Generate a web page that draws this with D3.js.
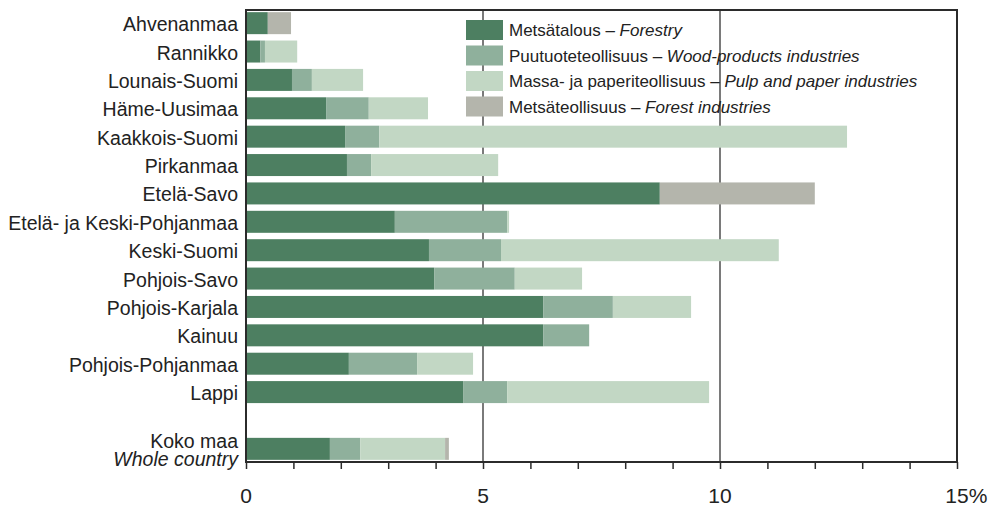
<!DOCTYPE html>
<html>
<head>
<meta charset="utf-8">
<script src="https://cdn.jsdelivr.net/npm/d3@7"></script>
<style>
  html, body { margin: 0; padding: 0; background: #fff; }
  svg { display: block; font-family: "Liberation Sans", Arial, sans-serif; }
</style>
</head>
<body>
<svg id="chart" width="988" height="507"></svg>
<script>
// ---- data ----
const regions = ["Ahvenanmaa", "Rannikko", "Lounais-Suomi", "Häme-Uusimaa", "Kaakkois-Suomi",
  "Pirkanmaa", "Etelä-Savo", "Etelä- ja Keski-Pohjanmaa", "Keski-Suomi", "Pohjois-Savo",
  "Pohjois-Karjala", "Kainuu", "Pohjois-Pohjanmaa", "Lappi", "", "Koko maa"];
const forestry      = [0.46, 0.30, 0.97, 1.69, 2.09, 2.13, 8.73, 3.14, 3.86, 3.97, 6.27, 6.27, 2.17, 4.58, 0, 1.77];
const woodProducts  = [0.00, 0.10, 0.42, 0.90, 0.72, 0.51, 0.00, 2.37, 1.52, 1.70, 1.47, 0.97, 1.44, 0.93, 0, 0.64];
const pulpPaper     = [0.00, 0.68, 1.08, 1.25, 9.87, 2.68, 0.00, 0.04, 5.86, 1.42, 1.65, 0.00, 1.18, 4.26, 0, 1.79];
const forestInd     = [0.49, 0.00, 0.00, 0.00, 0.00, 0.00, 3.27, 0.00, 0.00, 0.00, 0.00, 0.00, 0.00, 0.00, 0, 0.08];
const seriesKeys    = ["forestry", "woodProducts", "pulpPaper", "forestInd"];
const seriesLabelsFi = ["Metsätalous", "Puutuoteteollisuus", "Massa- ja paperiteollisuus", "Metsäteollisuus"];
const seriesLabelsEn = ["Forestry", "Wood-products industries", "Pulp and paper industries", "Forest industries"];
const seriesColors  = ["#4d7f61", "#8fb09c", "#c2d7c4", "#b4b5ac"];
const xTicks = [0, 5, 10, 15];

// ---- layout ----
const svg = d3.select("#chart");
const pLeft = 246, pRight = 957, pTop = 10, pBottom = 462;

const x = d3.scaleLinear().domain([0, 15]).range([pLeft, pRight]);
const y = d3.scaleBand().domain(regions.map((d, i) => i)).range([pTop, pBottom])
  .paddingInner(0.225).paddingOuter(0.076);

const table = regions.map((r, i) => ({
  region: r, forestry: forestry[i], woodProducts: woodProducts[i],
  pulpPaper: pulpPaper[i], forestInd: forestInd[i], idx: i
}));
const stacked = d3.stack().keys(seriesKeys)(table);

// grid lines at 5 and 10
svg.append("g").selectAll("line").data([5, 10]).join("line")
  .attr("x1", d => x(d)).attr("x2", d => x(d))
  .attr("y1", pTop).attr("y2", pBottom)
  .attr("stroke", "#7a7a7a").attr("stroke-width", 2);

// bars
svg.append("g").selectAll("g").data(stacked).join("g")
  .attr("fill", (d, i) => seriesColors[i])
  .selectAll("rect").data(d => d.filter(p => p.data.region !== "" && p[1] - p[0] > 0)).join("rect")
  .attr("x", d => x(d[0]))
  .attr("width", d => x(d[1]) - x(d[0]))
  .attr("y", d => y(d.data.idx))
  .attr("height", y.bandwidth());

// frame
svg.append("path")
  .attr("d", `M${pLeft},${pTop}H${pRight}V${pBottom}H${pLeft}Z`)
  .attr("fill", "none").attr("stroke", "#2b2b2b").attr("stroke-width", 2);

// x axis ticks
const xAxis = d3.axisBottom(x).tickValues(d3.range(0, 16, 1)).tickSize(7).tickFormat("");
const gx = svg.append("g").attr("transform", `translate(0,${pBottom})`).call(xAxis);
gx.select(".domain").remove();
gx.selectAll(".tick line").attr("stroke", "#2b2b2b").attr("stroke-width", 1.5);

const lab = svg.append("g").attr("font-size", 21).attr("fill", "#222");
xTicks.forEach(t => {
  const txt = lab.append("text").attr("x", x(t)).attr("y", 503).text(t);
  if (t === 15) {
    const w = txt.node().getComputedTextLength();
    txt.attr("x", x(t) - w / 2).text(t + "%");
  } else {
    txt.attr("text-anchor", "middle");
  }
});

// category labels
const cat = svg.append("g").attr("font-size", 19.5).attr("fill", "#222").attr("text-anchor", "end");
regions.forEach((r, i) => {
  if (r === "") return;
  const cy = y(i) + y.bandwidth() / 2;
  if (r === "Koko maa") {
    cat.append("text").attr("x", 238).attr("y", cy - 1).text(r);
    cat.append("text").attr("x", 238).attr("y", cy + 17).attr("font-style", "italic").text("Whole country");
  } else {
    cat.append("text").attr("x", 238).attr("y", cy + 8).text(r);
  }
});

// legend
const leg = svg.append("g").attr("font-size", 17).attr("fill", "#222");
seriesKeys.forEach((k, i) => {
  const ly = 20 + i * 25.5;
  leg.append("rect").attr("x", 466).attr("y", ly).attr("width", 37).attr("height", 20).attr("fill", seriesColors[i]);
  const t = leg.append("text").attr("x", 509).attr("y", ly + 16);
  t.append("tspan").text(seriesLabelsFi[i] + " – ");
  t.append("tspan").attr("font-style", "italic").text(seriesLabelsEn[i]);
});
</script>
</body>
</html>
